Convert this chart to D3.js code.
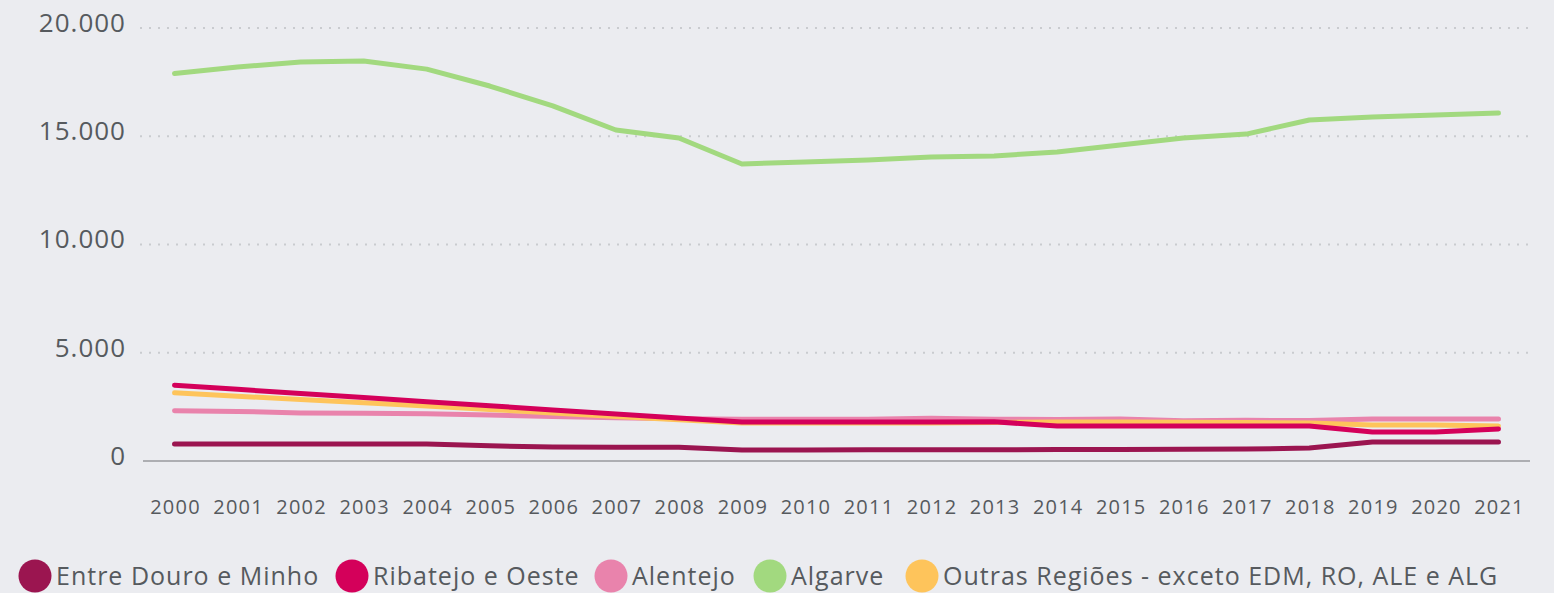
<!DOCTYPE html>
<html>
<head>
<meta charset="utf-8">
<script src="https://cdn.jsdelivr.net/npm/d3@7"></script>
<style>
  html, body { margin: 0; padding: 0; background: #ebecf0; }
  svg { display: block; font-family: "Open Sans", Lato, sans-serif; }
</style>
</head>
<body>
<div id="chart"></div>
<script>
// data
const years = ['2000','2001','2002','2003','2004','2005','2006','2007','2008','2009','2010',
               '2011','2012','2013','2014','2015','2016','2017','2018','2019','2020','2021'];

const entreDouroMinho = [780, 780, 780, 780, 780, 700, 650, 640, 640, 510, 510,
                         520, 520, 520, 530, 530, 540, 550, 600, 880, 880, 880];
const ribatejoOeste   = [3500, 3310, 3120, 2930, 2740, 2550, 2360, 2170, 1990, 1800, 1800,
                         1800, 1800, 1810, 1620, 1620, 1620, 1620, 1620, 1340, 1340, 1480];
const alentejo        = [2320, 2290, 2220, 2210, 2180, 2120, 2060, 2000, 1950, 1930, 1930,
                         1930, 1980, 1930, 1920, 1940, 1860, 1880, 1870, 1940, 1940, 1940];
const algarve         = [17900, 18200, 18430, 18480, 18100, 17320, 16400, 15290, 14920, 13720, 13810,
                         13900, 14040, 14090, 14270, 14600, 14920, 15100, 15750, 15890, 15980, 16070];
const outrasRegioes   = [3150, 2990, 2840, 2690, 2540, 2380, 2220, 2060, 1900, 1760, 1760,
                         1760, 1760, 1780, 1800, 1800, 1790, 1780, 1760, 1660, 1660, 1620];

const yTicks = [0, 5000, 10000, 15000, 20000];

const series = [
  { name: 'Entre Douro e Minho', values: entreDouroMinho, color: '#9b1550' },
  { name: 'Ribatejo e Oeste',    values: ribatejoOeste,   color: '#d4005a' },
  { name: 'Alentejo',            values: alentejo,        color: '#e983ac' },
  { name: 'Algarve',             values: algarve,         color: '#a2d97f' },
  { name: 'Outras Regiões - exceto EDM, RO, ALE e ALG', values: outrasRegioes, color: '#fec45b' }
];
// order in which lines are painted (last on top)
const drawOrder = ['Alentejo', 'Outras Regiões - exceto EDM, RO, ALE e ALG',
                   'Entre Douro e Minho', 'Ribatejo e Oeste', 'Algarve'];

const width = 1554, height = 593;
const plot = { left: 143, right: 1530, top: 28, bottom: 461 };

const svg = d3.select('#chart').append('svg')
  .attr('width', width)
  .attr('height', height);

const x = d3.scalePoint()
  .domain(years)
  .range([plot.left, plot.right])
  .padding(0.5);

const y = d3.scaleLinear()
  .domain([0, 20000])
  .range([plot.bottom, plot.top]);

const fmt = v => d3.format(',')(v).replace(/,/g, '.');

// dotted gridlines
svg.append('g')
  .selectAll('line')
  .data(yTicks.filter(d => d > 0))
  .join('line')
    .attr('x1', plot.left - 3)
    .attr('x2', plot.right)
    .attr('y1', d => y(d))
    .attr('y2', d => y(d))
    .attr('stroke', '#c9cbcf')
    .attr('stroke-width', 2)
    .attr('stroke-dasharray', '2,7');

// baseline
svg.append('line')
  .attr('x1', plot.left)
  .attr('x2', plot.right)
  .attr('y1', y(0))
  .attr('y2', y(0))
  .attr('stroke', '#adaeb2')
  .attr('stroke-width', 2);

// y labels
svg.append('g')
  .selectAll('text')
  .data(yTicks)
  .join('text')
    .attr('x', 126)
    .attr('y', d => y(d) - 3)
    .attr('text-anchor', 'end')
    .attr('dominant-baseline', 'middle')
    .attr('fill', '#565a5e')
    .style('font-size', '26px')
    .style('letter-spacing', '1px')
    .text(fmt);

// x labels
svg.append('g')
  .selectAll('text')
  .data(years)
  .join('text')
    .attr('x', d => x(d) + 1)
    .attr('y', 514)
    .attr('text-anchor', 'middle')
    .attr('fill', '#565a5e')
    .style('font-size', '20px')
    .style('letter-spacing', '1.2px')
    .text(d => d);

// lines
const line = d3.line()
  .x((d, i) => x(years[i]))
  .y(d => y(d));

svg.append('g')
  .selectAll('path')
  .data(drawOrder.map(n => series.find(s => s.name === n)))
  .join('path')
    .attr('fill', 'none')
    .attr('stroke', d => d.color)
    .attr('stroke-width', 5)
    .attr('stroke-linecap', 'round')
    .attr('stroke-linejoin', 'round')
    .attr('d', d => line(d.values));

// legend
const legendX = [35, 352, 611, 770, 922];
const legend = svg.append('g')
  .selectAll('g')
  .data(series)
  .join('g')
    .attr('transform', (d, i) => `translate(${legendX[i]},576)`);

legend.append('circle')
  .attr('r', 16.5)
  .attr('fill', d => d.color);

legend.append('text')
  .attr('x', 21)
  .attr('dy', '0.35em')
  .attr('fill', '#565a5e')
  .style('font-size', '25px')
  .style('letter-spacing', '1px')
  .text(d => d.name);
</script>
</body>
</html>
